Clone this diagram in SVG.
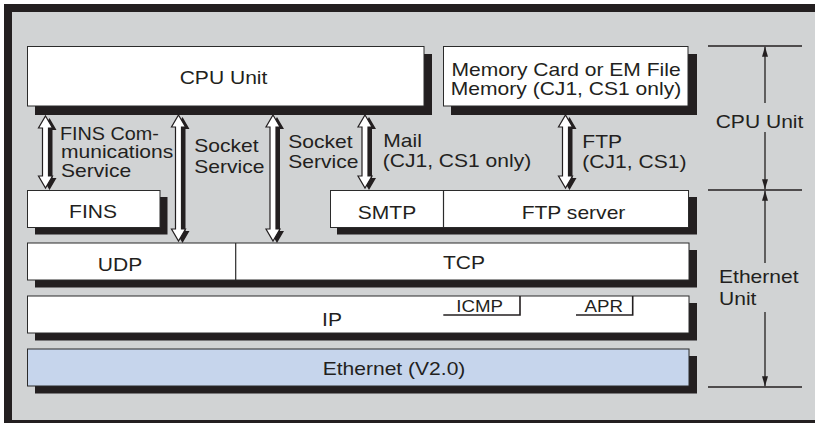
<svg xmlns="http://www.w3.org/2000/svg" width="815" height="423" viewBox="0 0 815 423">
<defs>
<style>
.box{fill:#ffffff;stroke:#2b2b2b;stroke-width:1}
.sh{fill:#231f20}
.eth{fill:#c6d5ec;stroke:#2b2b2b;stroke-width:1}
text{font-family:"Liberation Sans",Arial,sans-serif;font-size:18px;fill:#231f20}
.sm{font-size:16px}
.c{text-anchor:middle}
.dim{stroke:#231f20;stroke-width:1.3;fill:none}
.arw{fill:#ffffff;stroke:#231f20;stroke-width:1.2;stroke-linejoin:miter}
.arws{fill:#231f20}
</style>
<marker id="ah" viewBox="0 0 10 6" refX="10" refY="3" markerWidth="10" markerHeight="6" markerUnits="userSpaceOnUse" orient="auto">
<path d="M0,0 L10,3 L0,6 Z" fill="#231f20"/>
</marker>
<path id="dbl" d="M0,0 L7,12 L3,12 L3,-12 L7,-12 L0,0 Z"/>
</defs>
<rect x="0" y="0" width="815" height="423" fill="#ffffff"/>
<rect x="4" y="4" width="811" height="419" fill="#d1d3d4"/>
<rect x="4" y="4" width="811" height="8" fill="#231f20"/>
<rect x="4" y="4" width="8" height="419" fill="#231f20"/>
<rect x="4" y="420" width="811" height="3" fill="#231f20"/>

<g id="cpu-unit">
<rect class="sh" x="35" y="54" width="397" height="61"/>
<rect class="box" x="27.5" y="46.5" width="396.5" height="59.5"/>
<text class="c" transform="translate(223.5,84) scale(1.17,1)">CPU Unit</text>
</g>
<g id="memory-card">
<rect class="sh" x="451" y="54" width="246" height="61"/>
<rect class="box" x="443.5" y="46.5" width="244.5" height="59.5"/>
<text class="c" transform="translate(566,76) scale(1.17,1)">Memory Card or EM File</text>
<text class="c" transform="translate(566,95) scale(1.17,1)">Memory (CJ1, CS1 only)</text>
</g>
<g id="fins">
<rect class="sh" x="35" y="197" width="132.5" height="37.5"/>
<rect class="box" x="27.5" y="190.5" width="132.5" height="37"/>
<text class="c" transform="translate(93,218) scale(1.17,1)">FINS</text>
</g>
<g id="smtp-ftp">
<rect class="sh" x="337" y="197" width="360" height="37.5"/>
<rect class="box" x="330.5" y="190.5" width="358" height="37"/>
<line x1="443.5" y1="190.5" x2="443.5" y2="227.5" stroke="#2b2b2b" stroke-width="1.2"/>
<text class="c" transform="translate(387,218.5) scale(1.17,1)">SMTP</text>
<text class="c" transform="translate(573.5,218.5) scale(1.17,1)">FTP server</text>
</g>
<g id="udp-tcp">
<rect class="sh" x="35" y="250" width="662" height="37.5"/>
<rect class="box" x="27.5" y="243" width="661.5" height="37"/>
<line x1="235.7" y1="243" x2="235.7" y2="280" stroke="#2b2b2b" stroke-width="1.2"/>
<text class="c" transform="translate(120,270.5) scale(1.17,1)">UDP</text>
<text class="c" transform="translate(464,269) scale(1.17,1)">TCP</text>
</g>
<g id="ip">
<rect class="sh" x="35" y="303" width="662" height="37.5"/>
<rect class="box" x="27.5" y="296" width="661.5" height="37"/>
<text class="c" transform="translate(332,326) scale(1.17,1)">IP</text>
<path d="M443.3,315 H520 V296" fill="none" stroke="#231f20" stroke-width="1.6"/>
<text class="c sm" transform="translate(479.7,311.5) scale(1.17,1)">ICMP</text>
<path d="M576,315 H632.7 V296" fill="none" stroke="#231f20" stroke-width="1.6"/>
<text class="c sm" transform="translate(603.7,311.5) scale(1.17,1)">APR</text>
</g>
<g id="ethernet">
<rect class="sh" x="35" y="356" width="662" height="37.5"/>
<rect class="eth" x="27.5" y="349" width="661.5" height="37"/>
<text class="c" transform="translate(394,375) scale(1.17,1)">Ethernet (V2.0)</text>
</g>

<g id="labels">
<text transform="translate(60,139.5) scale(1.1,1)">FINS Com-</text>
<text transform="translate(61,158) scale(1.17,1)">munications</text>
<text transform="translate(61,177) scale(1.17,1)">Service</text>
<text transform="translate(194.3,151.5) scale(1.17,1)">Socket</text>
<text transform="translate(194.3,172.5) scale(1.17,1)">Service</text>
<text transform="translate(288.3,147.5) scale(1.17,1)">Socket</text>
<text transform="translate(288.3,168.3) scale(1.17,1)">Service</text>
<text transform="translate(383.3,146.7) scale(1.17,1)">Mail</text>
<text transform="translate(382.7,166.5) scale(1.17,1)">(CJ1, CS1 only)</text>
<text transform="translate(582.3,148.3) scale(1.17,1)">FTP</text>
<text transform="translate(582.3,168) scale(1.17,1)">(CJ1, CS1)</text>
<text class="c" transform="translate(759.5,128) scale(1.17,1)">CPU Unit</text>
<text transform="translate(719,283.3) scale(1.17,1)">Ethernet</text>
<text transform="translate(719,305) scale(1.17,1)">Unit</text>
</g>

<g id="connectors">
<g id="fins-arrow">
<path class="arws" transform="translate(49.5,2)" d="M0,116 L7,128 L3,128 L3,176 L7,176 L0,188 L-7,176 L-3,176 L-3,128 L-7,128 Z"/>
<path class="arw" transform="translate(45.5,0)" d="M0,116 L7,128 L3,128 L3,176 L7,176 L0,188 L-7,176 L-3,176 L-3,128 L-7,128 Z"/>
</g>
<g id="socket1-arrow">
<path class="arws" transform="translate(182.5,2)" d="M0,115 L7,127 L3,127 L3,229 L7,229 L0,241 L-7,229 L-3,229 L-3,127 L-7,127 Z"/>
<path class="arw" transform="translate(178.5,0)" d="M0,115 L7,127 L3,127 L3,229 L7,229 L0,241 L-7,229 L-3,229 L-3,127 L-7,127 Z"/>
</g>
<g id="socket2-arrow">
<path class="arws" transform="translate(277,2)" d="M0,115 L7,127 L3,127 L3,229 L7,229 L0,241 L-7,229 L-3,229 L-3,127 L-7,127 Z"/>
<path class="arw" transform="translate(273,0)" d="M0,115 L7,127 L3,127 L3,229 L7,229 L0,241 L-7,229 L-3,229 L-3,127 L-7,127 Z"/>
</g>
<g id="mail-arrow">
<path class="arws" transform="translate(369,2)" d="M0,115 L7,127 L3,127 L3,176 L7,176 L0,188 L-7,176 L-3,176 L-3,127 L-7,127 Z"/>
<path class="arw" transform="translate(365,0)" d="M0,115 L7,127 L3,127 L3,176 L7,176 L0,188 L-7,176 L-3,176 L-3,127 L-7,127 Z"/>
</g>
<g id="ftp-arrow">
<path class="arws" transform="translate(569.5,2)" d="M0,115 L7,127 L3,127 L3,176 L7,176 L0,188 L-7,176 L-3,176 L-3,127 L-7,127 Z"/>
<path class="arw" transform="translate(565.5,0)" d="M0,115 L7,127 L3,127 L3,176 L7,176 L0,188 L-7,176 L-3,176 L-3,127 L-7,127 Z"/>
</g>
<g id="dimensions">
<line class="dim" x1="708" y1="46" x2="802" y2="46"/>
<line class="dim" x1="708" y1="190" x2="802" y2="190"/>
<line class="dim" x1="708" y1="387" x2="802" y2="387"/>
<line class="dim" x1="765" y1="103" x2="765" y2="46.7" marker-end="url(#ah)"/>
<line class="dim" x1="765" y1="132" x2="765" y2="189.3" marker-end="url(#ah)"/>
<line class="dim" x1="765" y1="263" x2="765" y2="190.7" marker-end="url(#ah)"/>
<line class="dim" x1="765" y1="312" x2="765" y2="386.3" marker-end="url(#ah)"/>
</g>
</g>
</svg>
